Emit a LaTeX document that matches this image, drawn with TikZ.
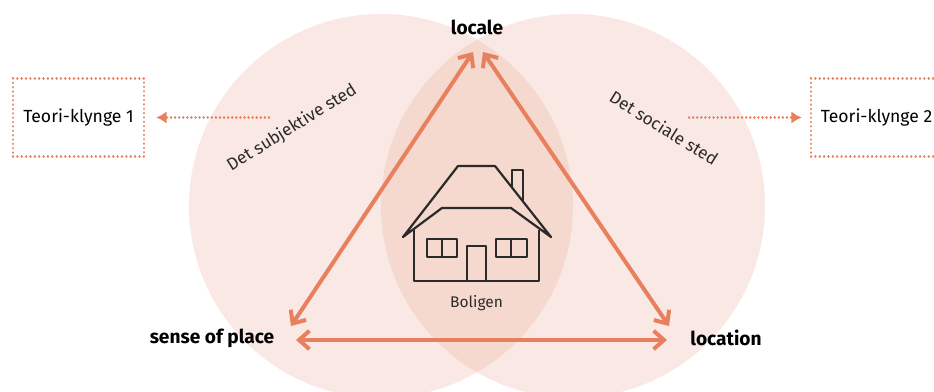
\documentclass[tikz,border=0pt]{standalone}
\usepackage{fontspec}
\setmainfont{Fira Sans}
\usepackage{tikz}
\usetikzlibrary{arrows.meta}
\definecolor{circlepink}{HTML}{F9E8E3}
\definecolor{lenspink}{HTML}{F6D9CE}
\definecolor{arrowred}{HTML}{E8805F}
\definecolor{inkgrey}{HTML}{2B2A2A}
\tikzset{
    corner/.style={font=\fontsize{13.6}{16}\selectfont\bfseries, text=black, inner sep=0pt},
    slanted/.style={font=\fontsize{12.2}{14}\selectfont, text=inkgrey, inner sep=0pt},
    klynge/.style={rectangle, draw=arrowred, line width=1.7pt, line cap=round, dash pattern=on 0.1pt off 3pt,
        minimum width=3.275cm, minimum height=1.95cm, font=\fontsize{12.5}{15}\selectfont, text=black, inner sep=0pt},
    triarrow/.style={{Straight Barb[length=2.6mm,width=4.6mm]}-{Straight Barb[length=2.6mm,width=4.6mm]}, draw=arrowred, line width=1mm},
    dotarrow/.style={-{Latex[length=2.6mm,width=3.1mm,fill=arrowred]}, draw=arrowred, line width=1.7pt, line cap=round, dash pattern=on 0.1pt off 2.8pt, shorten >=0.275cm},
    house/.style={draw=inkgrey, line width=0.55mm, line join=round},
}
\begin{document}
\begin{tikzpicture}[x=0.025cm,y=-0.025cm]
\useasboundingbox (0,0) rectangle (934,392);
\clip (0,0) rectangle (934,392);

% circles
\fill[circlepink] (381,206) circle[radius=192];
\fill[circlepink] (573,206) circle[radius=192];
\begin{scope}
\clip (381,206) circle[radius=192];
\fill[lenspink] (573,206) circle[radius=192];
\end{scope}

% labels
\node[corner] (locale) at (477,27) {locale};
\node[corner] (sense) at (212,338) {sense of place};
\node[corner] (location) at (726,338) {location};
\node[font=\fontsize{11}{13}\selectfont, text=inkgrey, inner sep=0pt] (boligen) at (476.5,303) {Boligen};
\node[slanted, rotate=32] (subjektiv) at (292,128) {Det subjektive sted};
\node[slanted, rotate=-32] (social) at (664,128) {Det sociale sted};
\node[klynge] (teori1) at (78.5,117.5) {Teori-klynge 1};
\node[klynge] (teori2) at (876.5,117.5) {Teori-klynge 2};

% triangle
\coordinate (topl) at (473,52);
\coordinate (topr) at (483,52);
\coordinate (left) at (291,326);
\coordinate (right) at (669,326);
\coordinate (basel) at (296,340);
\coordinate (baser) at (667,340);
\draw[triarrow] (topl)--(left);
\draw[triarrow] (topr)--(right);
\draw[triarrow] (basel)--(baser);

% dotted arrows
\coordinate (from1) at (269,117.5);
\coordinate (from2) at (689,117.5);
\draw[dotarrow] (from1)--(teori1.east);
\draw[dotarrow, shorten >=0.2cm] (from2)--(teori2.west);

% house
\draw[house] (403,237)--(458,166)--(495,166)--(551,237)--(511,208)--(442,208)--cycle;
\draw[house] (414,230)--(414,281)--(539,281)--(539,230);
\draw[house] (512,187)--(512,170)--(523,170)--(523,201);
\draw[house] (427,239) rectangle (457,257);
\draw[house] (442,239)--(442,257);
\draw[house] (496,239) rectangle (527,257);
\draw[house] (511,239)--(511,257);
\draw[house] (467,281)--(467,246)--(486,246)--(486,281);
\end{tikzpicture}
\end{document}
